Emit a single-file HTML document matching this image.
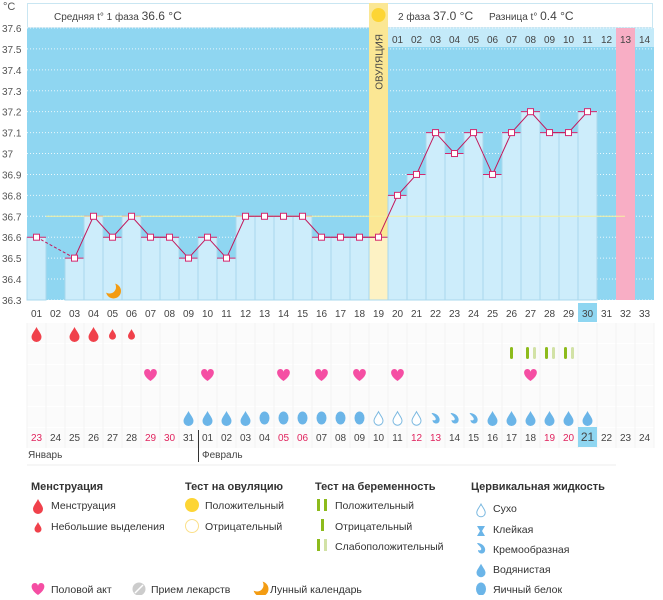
<!DOCTYPE html>
<html><head><meta charset="utf-8"><style>
body{margin:0;background:#fff;font-family:"Liberation Sans",sans-serif;}
svg text{font-family:"Liberation Sans",sans-serif;}
</style></head><body>
<svg id="s" width="663" height="595" xmlns="http://www.w3.org/2000/svg"></svg>
<script>
const s=document.getElementById('s');let h='';
const L=27,W=19,T=28,B=300,U=20.92;
const cx=i=>L+(i-0.5)*W, yv=v=>T+(37.6-v)*10*U;
h+=`<defs><mask id="mk"><rect x="-10" y="-10" width="20" height="20" fill="#fff"/><circle cx="-4" cy="-4" r="6.5" fill="#000"/></mask></defs>`;
const moon=(x,y)=>`<g transform="translate(${x},${y})"><circle r="7.5" fill="#f39c12" mask="url(#mk)"/></g>`;
h+=`<rect x="27.5" y="3.5" width="625" height="24" fill="#fff" stroke="#c9e6f2"/>`;
h+=`<text x="54" y="20" font-size="10" fill="#444">Средняя t° 1 фаза <tspan font-size="12">36.6 °C</tspan></text>`;
h+=`<text x="398" y="20" font-size="10" fill="#444">2 фаза <tspan font-size="12">37.0 °C</tspan></text>`;
h+=`<text x="489" y="20" font-size="10" fill="#444">Разница t° <tspan font-size="12">0.4 °C</tspan></text>`;
h+=`<rect x="${L}" y="${T}" width="${33*W}" height="${B-T}" fill="#8fd6f1"/>`;
h+=`<rect x="${L+19*W}" y="${T}" width="${14*W}" height="19" fill="#c4eaf9"/>`;
for(let v=0;v<=13;v++){let y=T+v*U;h+=`<line x1="${L}" x2="${L+33*W}" y1="${y}" y2="${y}" stroke="#fff" stroke-dasharray="1,2" stroke-opacity=".8"/>`;
h+=`<text x="2" y="${y+4}" font-size="10" fill="#555">${(37.6-v/10).toFixed(1).replace('37.0','37')}</text>`;}
h+=`<text x="3" y="10" font-size="11" fill="#555">°C</text>`;
const t=[36.6,null,36.5,36.7,36.6,36.7,36.6,36.6,36.5,36.6,36.5,36.7,36.7,36.7,36.7,36.6,36.6,36.6,36.6,36.8,36.9,37.1,37.0,37.1,36.9,37.1,37.2,37.1,37.1,37.2];
h+=`<rect x="${L+18*W}" y="3" width="${W}" height="${B-3}" fill="#fbe794"/>`;
h+=`<rect x="${L+31*W}" y="${T}" width="${W}" height="${B-T}" fill="#f8aec5"/>`;
for(let i=1;i<=30;i++){const v=t[i-1];if(v==null)continue;const y=yv(v);
h+=`<rect x="${L+(i-1)*W}" y="${y}" width="${W}" height="${B-y}" fill="${i==19?'#fdf2c4':'#cdedfb'}" stroke="#a9d8ec" stroke-width="1"/>`;
h+=`<line x1="${L+(i-1)*W}" x2="${L+i*W}" y1="${y}" y2="${y}" stroke="#d4286d"/>`;}
h+=`<circle cx="${cx(19)}" cy="15" r="7" fill="#fdd535"/>`;
h+=`<text transform="translate(${cx(19)+4},34) rotate(-90)" text-anchor="end" font-size="10" fill="#444">ОВУЛЯЦИЯ</text>`;
h+=`<line x1="${L+W}" x2="625" y1="${yv(36.7)}" y2="${yv(36.7)}" stroke="#f5f0a0"/>`;
for(let i=1;i<=14;i++)h+=`<text x="${cx(19+i)}" y="43" text-anchor="middle" font-size="10" fill="#444">${String(i).padStart(2,'0')}</text>`;
let pts=[];for(let i=1;i<=30;i++)if(t[i-1]!=null)pts.push([cx(i),yv(t[i-1])]);
h+=`<line x1="${pts[0][0]}" y1="${pts[0][1]}" x2="${pts[1][0]}" y2="${pts[1][1]}" stroke="#c2185b" stroke-dasharray="3,2"/>`;
h+=`<polyline points="${pts.slice(1).map(p=>p.join(',')).join(' ')}" fill="none" stroke="#c2185b"/>`;
pts.forEach(p=>h+=`<rect x="${p[0]-3}" y="${p[1]-3}" width="6" height="6" fill="#fff" stroke="#d4286d"/>`);
h+=moon(cx(5)+1,291);
for(let r=0;r<6;r++){h+=`<rect x="${L}" y="${323+r*21}" width="${33*W}" height="20" fill="#fbfbfb"/>`;}
for(let i=0;i<=33;i++)h+=`<line x1="${L+i*W}" x2="${L+i*W}" y1="323" y2="448" stroke="#f3f3f3"/>`;
h+=`<rect x="${L+29*W}" y="303" width="${W}" height="19" fill="#8fd6f1"/>`;
h+=`<rect x="${L+29*W}" y="427" width="${W}" height="20" fill="#8fd6f1"/>`;
for(let i=1;i<=33;i++)h+=`<text x="${cx(i)}" y="317" text-anchor="middle" font-size="10" fill="#444">${String(i).padStart(2,'0')}</text>`;
const d=['23','24','25','26','27','28','29','30','31','01','02','03','04','05','06','07','08','09','10','11','12','13','14','15','16','17','18','19','20','21','22','23','24'];
const red=[0,6,7,13,14,20,21,27,28];
d.forEach((x,i)=>h+=`<text x="${cx(i+1)}" y="441" text-anchor="middle" font-size="${i==29?12:10}" fill="${red.includes(i)?'#e0245e':'#444'}">${x}</text>`);
h+=`<line x1="198.5" x2="198.5" y1="430" y2="462" stroke="#333"/>`;
h+=`<text x="28" y="458" font-size="10" fill="#444">Январь</text><text x="202" y="458" font-size="10" fill="#444">Февраль</text>`;
h+=`<line x1="27" x2="616" y1="465" y2="465" stroke="#eee"/>`;
const drop=(x,y,sc,c,o)=>`<path transform="translate(${x},${y}) scale(${sc})" d="M0,-7 C2,-3 5,0 5,3 A5,5 0 0,1 -5,3 C-5,0 -2,-3 0,-7z" ${o?`fill="#fff" stroke="${c}" stroke-width="${1/sc}"`:`fill="${c}"`}/>`;
[[1,1],[3,1],[4,1],[5,.7],[6,.7]].forEach(([i,k])=>h+=drop(cx(i),334,k,'#f0414b'));
const tb=(x,c)=>`<rect x="${x-1.5}" y="347" width="3" height="12" rx="1.5" fill="${c}"/>`;
h+=tb(cx(26),'#8dbb1c');[27,28,29].forEach(i=>{h+=tb(cx(i)-3,'#8dbb1c')+tb(cx(i)+4,'#d2e2a6');});
const heart=(x,y)=>`<path transform="translate(${x},${y})" d="M0,6 C-9,0 -7,-6 -3,-6 C-1,-6 0,-4 0,-3 C0,-4 1,-6 3,-6 C7,-6 9,0 0,6z" fill="#f54ea3"/>`;
[7,10,14,16,18,20,27].forEach(i=>h+=heart(cx(i),375));
for(let i=9;i<=30;i++){let x=cx(i),y=418;
if(i>=13&&i<=18)h+=`<ellipse cx="${x}" cy="${y}" rx="5" ry="6.5" fill="#6bb5e8"/>`;
else if(i>=19&&i<=21)h+=drop(x,y,.9,'#7ab8e0',1);
else if(i>=22&&i<=24)h+=`<path transform="translate(${x},${y})" d="M-4,-5 C2,-5 5,0 4,3 C3,7 -3,6 -3,2 C-1,3 1,2 0,0 C-1,-2 -3,-3 -4,-5z" fill="#6bb5e8"/>`;
else h+=drop(x,y,1,'#6bb5e8');}
const tx=(x,y,s,b)=>`<text x="${x}" y="${y}" font-size="${b?11:10.5}" ${b?'font-weight="bold"':''} fill="#333">${s}</text>`;
h+=tx(31,490,'Менструация',1)+tx(185,490,'Тест на овуляцию',1)+tx(315,490,'Тест на беременность',1)+tx(471,490,'Цервикальная жидкость',1);
h+=drop(38,506,1,'#f0414b')+tx(51,509,'Менструация');
h+=drop(38,527,.7,'#f0414b')+tx(51,530,'Небольшие выделения');
h+=`<circle cx="192" cy="505" r="7" fill="#fdd535"/><circle cx="192" cy="526" r="6.5" fill="#fff" stroke="#fbe08a"/>`;
h+=tx(205,509,'Положительный')+tx(205,530,'Отрицательный');
h+=`<rect x="317" y="499" width="3" height="12" fill="#8dbb1c"/><rect x="324" y="499" width="3" height="12" fill="#8dbb1c"/>`;
h+=`<rect x="321" y="519" width="3" height="12" fill="#8dbb1c"/>`;
h+=`<rect x="317" y="539" width="3" height="12" fill="#8dbb1c"/><rect x="324" y="539" width="3" height="12" fill="#d2e2a6"/>`;
h+=tx(335,509,'Положительный')+tx(335,530,'Отрицательный')+tx(335,550,'Слабоположительный');
h+=drop(481,510,.85,'#7ab8e0',1)+tx(493,512,'Сухо');
h+=`<path d="M477,526 h8 l-3,5 l3,5 h-8 l3,-5z" fill="#6bb5e8"/>`+tx(493,533,'Клейкая');
h+=`<path transform="translate(481,548)" d="M-4,-5 C2,-5 5,0 4,3 C3,7 -3,6 -3,2 C-1,3 1,2 0,0 C-1,-2 -3,-3 -4,-5z" fill="#6bb5e8"/>`+tx(493,553,'Кремообразная');
h+=drop(481,570,.9,'#6bb5e8')+tx(493,573,'Водянистая');
h+=`<ellipse cx="481" cy="589" rx="5" ry="6.5" fill="#6bb5e8"/>`+tx(493,593,'Яичный белок');
h+=heart(38,589)+tx(51,593,'Половой акт');
h+=`<circle cx="139" cy="589" r="6.5" fill="#ccc"/><line x1="135" y1="593" x2="143" y2="585" stroke="#fff" stroke-width="1.5"/>`+tx(151,593,'Прием лекарств');
h+=moon(261,589)+tx(270,593,'Лунный календарь');
s.innerHTML=h;
</script>
</body></html>
